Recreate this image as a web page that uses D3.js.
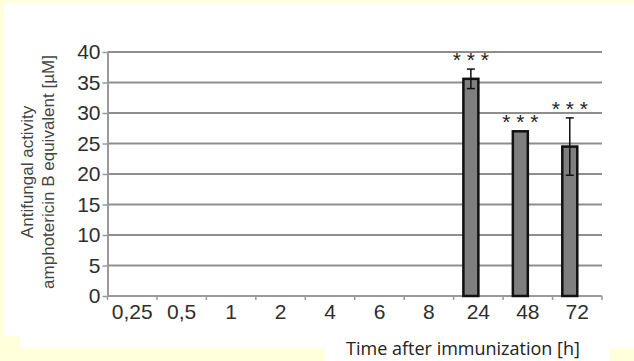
<!DOCTYPE html>
<html>
<head>
<meta charset="utf-8">
<script src="https://cdn.jsdelivr.net/npm/d3@7"></script>
<style>
  html, body { margin: 0; padding: 0; background: #ffffdc; }
  svg { display: block; }
</style>
</head>
<body>
<div id="chart"></div>
<script>
// Data
const times = ["0,25", "0,5", "1", "2", "4", "6", "8", "24", "48", "72"];
const activity = [0, 0, 0, 0, 0, 0, 0, 35.6, 27.0, 24.5];
const errors = [0, 0, 0, 0, 0, 0, 0, 1.6, 0, 4.7];
const stars = ["", "", "", "", "", "", "", "* * *", "* * *", "* * *"];
const yTicks = [0, 5, 10, 15, 20, 25, 30, 35, 40];

const W = 634, H = 361;
const M = { left: 107.5, right: 602, top: 52, bottom: 296 };

const svg = d3.select("#chart").append("svg")
  .attr("width", W).attr("height", H);

// Backdrop: pale yellow page with white panel
svg.append("rect").attr("width", W).attr("height", H).attr("fill", "#ffffdc");
svg.append("rect")
  .attr("x", 4).attr("y", 3).attr("width", W - 4).attr("height", 345)
  .attr("fill", "#fff");
svg.append("rect")
  .attr("x", 4).attr("y", 336).attr("width", 16).attr("height", 12)
  .attr("fill", "#ffffdc");
svg.append("rect")
  .attr("x", 325).attr("y", 340).attr("width", 285).attr("height", 21)
  .attr("fill", "#fff");

// Scales
const x = d3.scaleBand().domain(times).range([M.left, M.right]).padding(0);
const sub = d3.scaleBand().domain(["measured", "blank"])
  .range([0, x.bandwidth()]).paddingInner(0).paddingOuter(0.65);
const y = d3.scaleLinear().domain([0, 40]).range([M.bottom, M.top]);

// Gridlines
svg.append("g")
  .selectAll("line")
  .data(yTicks.filter(d => d > 0))
  .join("line")
  .attr("x1", M.left).attr("x2", M.right)
  .attr("y1", d => y(d)).attr("y2", d => y(d))
  .attr("stroke", "#8e8e8e").attr("stroke-width", 2);

// Y axis
const yAxis = svg.append("g")
  .attr("transform", `translate(${M.left},0)`)
  .call(d3.axisLeft(y).tickValues(yTicks).tickSize(5).tickPadding(2).tickSizeOuter(0));
yAxis.select(".domain").attr("stroke", "#9a9a9a").attr("stroke-width", 2);
yAxis.selectAll(".tick line").attr("stroke", "#9a9a9a").attr("stroke-width", 1.5);
yAxis.selectAll(".tick text")
  .attr("fill", "#2e2e2e")
  .style("font-family", "'Liberation Sans', Arial, sans-serif")
  .style("font-size", "21px");

// X axis line + boundary ticks
svg.append("line")
  .attr("x1", M.left).attr("x2", M.right)
  .attr("y1", y(0)).attr("y2", y(0))
  .attr("stroke", "#9a9a9a").attr("stroke-width", 2);
svg.append("g")
  .selectAll("line")
  .data(times.map(t => x(t)).concat([M.right]))
  .join("line")
  .attr("x1", d => d).attr("x2", d => d)
  .attr("y1", y(0)).attr("y2", y(0) + 4)
  .attr("stroke", "#9a9a9a").attr("stroke-width", 1.5);

svg.append("g")
  .selectAll("text")
  .data(times)
  .join("text")
  .attr("x", d => x(d) + x.bandwidth() / 2)
  .attr("y", 319)
  .attr("text-anchor", "middle")
  .attr("fill", "#2e2e2e")
  .style("font-family", "'Liberation Sans', Arial, sans-serif")
  .style("font-size", "21px")
  .text(d => d);

// Bars
const rows = times.map((t, i) => ({ t, v: activity[i], e: errors[i], s: stars[i] }));
const shown = rows.filter(d => d.v > 0);

svg.append("g")
  .selectAll("rect")
  .data(shown)
  .join("rect")
  .attr("x", d => x(d.t) + sub("measured"))
  .attr("y", d => y(d.v))
  .attr("width", sub.bandwidth())
  .attr("height", d => y(0) - y(d.v))
  .attr("fill", "#7f7f7f")
  .attr("stroke", "#111")
  .attr("stroke-width", 2.5);

// Error bars
const eg = svg.append("g").attr("stroke", "#111").attr("stroke-width", 1.5);
shown.filter(d => d.e > 0).forEach(d => {
  const cx = x(d.t) + sub("measured") + sub.bandwidth() / 2;
  eg.append("line").attr("x1", cx).attr("x2", cx)
    .attr("y1", y(d.v + d.e)).attr("y2", y(d.v - d.e));
  [d.v + d.e, d.v - d.e].forEach(v => {
    eg.append("line").attr("x1", cx - 4).attr("x2", cx + 4)
      .attr("y1", y(v)).attr("y2", y(v));
  });
});

// Significance stars
svg.append("g")
  .selectAll("text")
  .data(shown)
  .join("text")
  .attr("x", d => x(d.t) + sub("measured") + sub.bandwidth() / 2)
  .attr("y", d => y(d.v + d.e) - 2)
  .attr("text-anchor", "middle")
  .attr("fill", "#222")
  .style("font-family", "'Liberation Sans', Arial, sans-serif")
  .style("font-size", "21px")
  .text(d => d.s);

// Axis titles
const yt = svg.append("text")
  .attr("transform", "translate(0,172) rotate(-90)")
  .attr("text-anchor", "middle")
  .attr("fill", "#444")
  .style("font-family", "'Liberation Sans', Arial, sans-serif")
  .style("font-size", "17px");
yt.append("tspan").attr("x", 0).attr("y", 33).text("Antifungal activity");
yt.append("tspan").attr("x", 0).attr("y", 54).text("amphotericin B equivalent  [\u00b5M]");

svg.append("text")
  .attr("x", 463).attr("y", 355)
  .attr("text-anchor", "middle")
  .attr("fill", "#222")
  .style("font-family", "'Open Sans', sans-serif")
  .style("font-size", "18px")
  .text("Time after immunization [h]");
</script>
</body>
</html>
